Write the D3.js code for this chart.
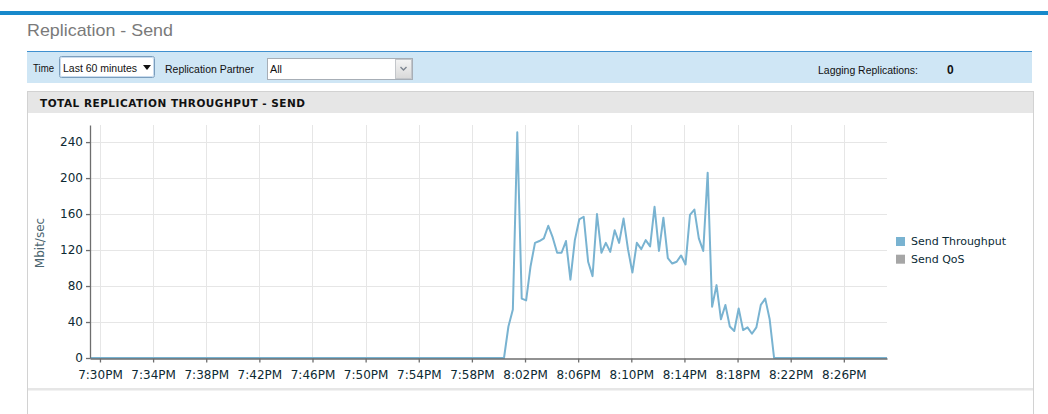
<!DOCTYPE html>
<html><head><meta charset="utf-8">
<script src="https://cdn.jsdelivr.net/npm/d3@7"></script>
<style>
html,body{margin:0;padding:0;background:#fff;overflow:hidden;}
svg{display:block;}
</style></head><body>
<svg id="c" width="1048" height="414"></svg>
<script>
// ---------- data ----------
const pageTitle = "Replication - Send";
const chartTitle = "TOTAL REPLICATION THROUGHPUT - SEND";
const yAxisTitle = "Mbit/sec";
const yTicks = [0, 40, 80, 120, 160, 200, 240];
const xTickLabels = ["7:30PM","7:34PM","7:38PM","7:42PM","7:46PM","7:50PM","7:54PM","7:58PM",
                     "8:02PM","8:06PM","8:10PM","8:14PM","8:18PM","8:22PM","8:26PM"];
const seriesNames = ["Send Throughput", "Send QoS"];
const seriesColors = ["#79b3d1", "#a6a6a6"];
const windowStart = "7:29:15PM";
const windowEnd = "8:29:15PM";
const sampleStart = "7:29:05PM";
const sampleStepSeconds = 20;
// Send Throughput, one value every 20 s (Mbit/sec)
const sendThroughput = [
  0,0,0,0,0,0,0,0,0,0, 0,0,0,0,0,0,0,0,0,0,
  0,0,0,0,0,0,0,0,0,0, 0,0,0,0,0,0,0,0,0,0,
  0,0,0,0,0,0,0,0,0,0, 0,0,0,0,0,0,0,0,0,0,
  0,0,0,0,0,0,0,0,0,0, 0,0,0,0,0,0,0,0,0,0,
  0,0,0,0,0,0,0,0,0,0, 0,0,0,0,0,
  35,54,251,66,64,102,128,130,133,147,
  134,117,117,130,87,131,154,157,107,91,
  160,117,128,118,142,128,155,121,95,128,
  121,131,124,168,119,156,111,105,107,114,
  104,159,165,133,119,206,57,81,43,59,
  35,30,55,31,34,27,34,59,66,43,
  0,0,0,0,0,0,0,0,0,0, 0,0,0,0,0,0,0,0,0,0,
  0,0,0,0,0,0,0
];
const filterTimeLabel = "Time";
const filterTimeValue = "Last 60 minutes";
const filterPartnerLabel = "Replication Partner";
const filterPartnerValue = "All";
const laggingLabel = "Lagging Replications:";
const laggingValue = "0";

// ---------- drawing ----------
const svg = d3.select("#c");
const parseT = d3.timeParse("%I:%M:%S%p");
const parseTick = d3.timeParse("%I:%M%p");
const t0 = parseT(sampleStart);
const points = sendThroughput.map((v, i) => ({t: d3.timeSecond.offset(t0, i * sampleStepSeconds), v}));

// top accent bar
svg.append("rect").attr("x", 0).attr("y", 11).attr("width", 1048).attr("height", 4).attr("fill", "#1789cb");

svg.append("text").attr("x", 27).attr("y", 36)
  .attr("font-family", "Liberation Sans, Arial, sans-serif").attr("font-size", 17)
  .attr("textLength", 146).attr("lengthAdjust", "spacingAndGlyphs")
  .attr("fill", "#7a7a7a").text(pageTitle);

// filter bar
svg.append("rect").attr("x", 27).attr("y", 51).attr("width", 1005).attr("height", 32).attr("fill", "#cfe6f5");
svg.append("line").attr("x1", 27).attr("x2", 1032).attr("y1", 51.5).attr("y2", 51.5).attr("stroke", "#3f90cf");

const ff = "Liberation Sans, Arial, sans-serif";
function ftext(xp, yp, s, len, extra) {
  const t = svg.append("text").attr("x", xp).attr("y", yp).attr("font-family", ff).attr("font-size", 11.5)
    .attr("fill", "#111").text(s);
  if (len) t.attr("textLength", len).attr("lengthAdjust", "spacingAndGlyphs");
  return t;
}
ftext(33, 72, filterTimeLabel, 21);
svg.append("rect").attr("x", 59.5).attr("y", 56.5).attr("width", 95).attr("height", 21).attr("rx", 2)
  .attr("fill", "#fff").attr("stroke", "#7b9ebd");
svg.append("rect").attr("x", 60.5).attr("y", 57.5).attr("width", 93).attr("height", 19).attr("rx", 1.5)
  .attr("fill", "none").attr("stroke", "#c9dcef");
ftext(63, 72, filterTimeValue, 74);
svg.append("path").attr("d", "M143,65 L151,65 L147,70 Z").attr("fill", "#111");

ftext(165, 73, filterPartnerLabel, 89);
svg.append("rect").attr("x", 267.5).attr("y", 58.5).attr("width", 145).attr("height", 21)
  .attr("fill", "#fff").attr("stroke", "#a7aeb6");
ftext(270, 73, filterPartnerValue, 12);
const grad = svg.append("defs").append("linearGradient").attr("id", "btn").attr("x1", 0).attr("y1", 0).attr("x2", 0).attr("y2", 1);
grad.append("stop").attr("offset", "0%").attr("stop-color", "#f4f4f4");
grad.append("stop").attr("offset", "100%").attr("stop-color", "#d9d9d9");
svg.append("rect").attr("x", 395.5).attr("y", 59.5).attr("width", 16).attr("height", 19)
  .attr("fill", "url(#btn)").attr("stroke", "#c3c6ca");
svg.append("path").attr("d", "M400.5,67 L403.5,70 L406.5,67").attr("fill", "none").attr("stroke", "#7d8590").attr("stroke-width", 1.4);

ftext(818, 73.5, laggingLabel, 100);
svg.append("text").attr("x", 947).attr("y", 74).attr("font-family", ff).attr("font-size", 12).attr("font-weight", "bold").attr("fill", "#111").text(laggingValue);

// chart panel
svg.append("rect").attr("x", 27.5).attr("y", 91.5).attr("width", 1006).attr("height", 340)
  .attr("fill", "#fff").attr("stroke", "#d2d2d2");
svg.append("rect").attr("x", 28).attr("y", 92).attr("width", 1005).attr("height", 21).attr("fill", "#e6e6e6");
svg.append("text").attr("x", 40).attr("y", 107).attr("font-family", "DejaVu Sans, Verdana, sans-serif")
  .attr("font-size", 10.5).attr("font-weight", "bold").attr("fill", "#111")
  .attr("textLength", 265).attr("lengthAdjust", "spacing").text(chartTitle);
svg.append("rect").attr("x", 28).attr("y", 388).attr("width", 1005).attr("height", 2.5).attr("fill", "#e6e6e6");

// scales
const x = d3.scaleTime().domain([parseT(windowStart), parseT(windowEnd)]).range([90, 887]);
const y = d3.scaleLinear().domain([0, 259]).range([358, 125]);
const xTickVals = xTickLabels.map(s => parseTick(s));
const tf = "DejaVu Sans, Verdana, sans-serif";

// grid
const grid = svg.append("g");
grid.selectAll("line.v").data(xTickVals).join("line")
  .attr("x1", d => Math.round(x(d)) + 0.5).attr("x2", d => Math.round(x(d)) + 0.5)
  .attr("y1", 125).attr("y2", 358).attr("stroke", "#e6e6e6");
grid.selectAll("line.h").data(yTicks.filter(d => d > 0)).join("line")
  .attr("x1", 90).attr("x2", 887)
  .attr("y1", d => Math.round(y(d)) + 0.5).attr("y2", d => Math.round(y(d)) + 0.5).attr("stroke", "#e6e6e6");

// line
const clip = svg.append("defs").append("clipPath").attr("id", "pc");
clip.append("rect").attr("x", 90).attr("y", 120).attr("width", 797).attr("height", 245);
svg.append("path").datum(points)
  .attr("clip-path", "url(#pc)")
  .attr("d", d3.line().x(d => x(d.t)).y(d => y(d.v)))
  .attr("fill", "none").attr("stroke", seriesColors[0]).attr("stroke-width", 2).attr("stroke-linejoin", "round");

// axes
const yAxis = svg.append("g").attr("transform", "translate(90,0)")
  .call(d3.axisLeft(y).tickValues(yTicks).tickSize(4).tickSizeOuter(0).tickPadding(3));
const xAxis = svg.append("g").attr("transform", "translate(0,358.5)")
  .call(d3.axisBottom(x).tickValues(xTickVals).tickFormat(d3.timeFormat("%-I:%M%p")).tickSize(4).tickSizeOuter(0).tickPadding(8));
[yAxis, xAxis].forEach(a => {
  a.select(".domain").attr("stroke", "#6e6e6e").attr("stroke-width", 1.3);
  a.selectAll(".tick line").attr("stroke", "#6e6e6e").attr("stroke-width", 1.3);
  a.selectAll("text").attr("font-family", tf).attr("font-size", 12).attr("fill", "#0d2a33");
});

svg.append("text").attr("transform", "translate(44,243) rotate(-90)").attr("text-anchor", "middle")
  .attr("font-family", tf).attr("font-size", 12).attr("fill", "#4b6570").text(yAxisTitle);

// legend
const lg = svg.append("g").selectAll("g").data(seriesNames).join("g")
  .attr("transform", (d, i) => `translate(896,${237 + i * 17.7})`);
lg.append("rect").attr("width", 9).attr("height", 9).attr("fill", (d, i) => seriesColors[i]);
lg.append("text").attr("x", 15).attr("y", 8.3).attr("font-family", tf).attr("font-size", 11)
  .attr("fill", "#0b2b36").text(d => d);
</script>
</body></html>
